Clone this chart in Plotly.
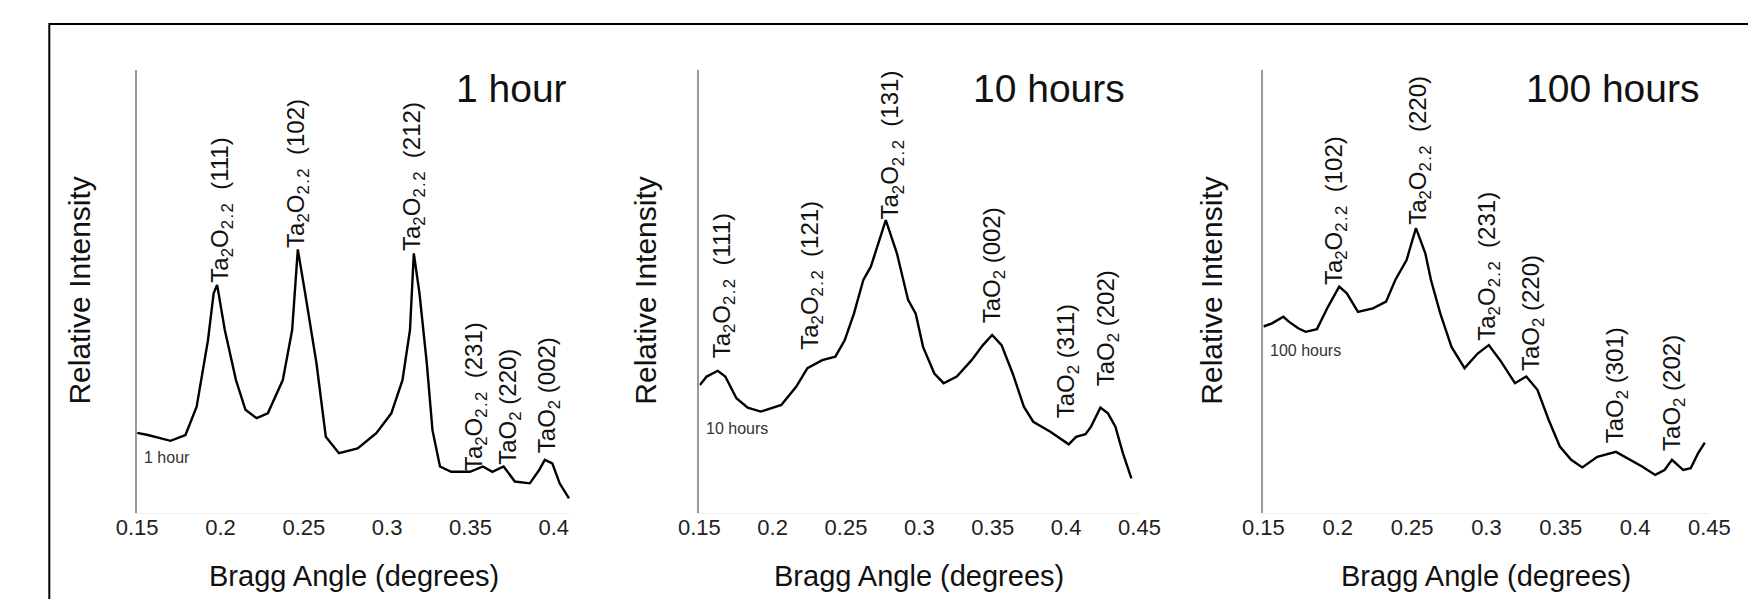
import plotly.graph_objects as go

# ---------------- data (Bragg angle in degrees, relative intensity in arbitrary units) ----------------
panel_names = ["1 hour", "10 hours", "100 hours"]
tick_vals = [0.15, 0.2, 0.25, 0.3, 0.35, 0.4, 0.45]
tick_text = ["0.15", "0.2", "0.25", "0.3", "0.35", "0.4", "0.45"]

angle_1h = [0.150, 0.1565, 0.170, 0.179, 0.1857, 0.1925, 0.1959, 0.198, 0.2026, 0.2093, 0.215, 0.2217,
            0.2284, 0.2374, 0.243, 0.2464, 0.2508, 0.2576, 0.2632, 0.2711, 0.2823, 0.2935, 0.3025, 0.3092,
            0.3137, 0.316, 0.3194, 0.3238, 0.3272, 0.3317, 0.3384, 0.3497, 0.3575, 0.3631, 0.3699, 0.3766,
            0.3856, 0.3912, 0.3946, 0.3991, 0.4035, 0.4091]
inten_1h = [18.1, 17.6, 16.3, 17.6, 24.0, 39.0, 49.6, 51.5, 41.3, 30.0, 23.3, 21.4,
            22.5, 30.0, 41.3, 59.5, 49.6, 33.8, 17.2, 13.5, 14.6, 18.0, 22.5, 30.0,
            41.3, 58.6, 49.6, 33.8, 18.7, 10.5, 9.3, 9.3, 10.5, 9.3, 10.5, 7.1,
            6.7, 9.7, 12.0, 11.2, 6.7, 3.3]

angle_10h = [0.1504, 0.155, 0.1626, 0.1677, 0.1753, 0.183, 0.1919, 0.2059, 0.216, 0.2237, 0.2338, 0.2427,
             0.2491, 0.2554, 0.2618, 0.2669, 0.2771, 0.2847, 0.2923, 0.2975, 0.3025, 0.3102, 0.3165, 0.3255,
             0.3356, 0.3433, 0.3496, 0.356, 0.3636, 0.3712, 0.3776, 0.389, 0.4018, 0.4068, 0.4132, 0.417,
             0.4234, 0.4285, 0.4336, 0.4387, 0.4445]
inten_10h = [28.9, 30.8, 32.1, 30.8, 25.9, 23.8, 22.9, 24.4, 28.5, 32.7, 34.5, 35.3,
             39.0, 45.0, 52.6, 55.6, 66.1, 58.6, 48.1, 45.0, 37.5, 31.5, 29.3, 30.8,
             34.5, 37.9, 40.2, 37.9, 31.5, 24.0, 20.6, 18.4, 15.5, 17.2, 17.8, 19.5,
             23.8, 22.5, 19.5, 13.5, 7.8]

angle_100h = [0.150, 0.1558, 0.1634, 0.1671, 0.1734, 0.1784, 0.186, 0.1935, 0.201, 0.2061, 0.2136, 0.2237,
              0.2325, 0.2387, 0.2463, 0.2526, 0.2589, 0.2627, 0.269, 0.2765, 0.2853, 0.2941, 0.3016, 0.3092,
              0.3192, 0.3268, 0.3343, 0.3419, 0.3494, 0.357, 0.3645, 0.3746, 0.3871, 0.3972, 0.4047, 0.4135,
              0.4198, 0.4248, 0.4324, 0.4374, 0.4424, 0.4469]
inten_100h = [42.1, 42.8, 44.3, 43.2, 41.7, 40.9, 41.5, 46.6, 51.1, 49.6, 45.4, 46.2,
              47.7, 52.6, 57.1, 64.3, 58.6, 52.6, 45.0, 37.5, 32.7, 36.0, 37.9, 34.5,
              29.3, 30.8, 27.8, 21.0, 15.0, 12.0, 10.3, 12.7, 13.8, 12.0, 10.5, 8.6,
              9.7, 12.0, 9.7, 10.1, 13.5, 15.9]

T22 = "Ta<sub>2</sub>O<sub>2&#8202;.&#8202;2</sub>  "
TO2 = "TaO<sub>2</sub> "
peak_text_1h = [T22 + "(111)", T22 + "(102)", T22 + "(212)", T22 + "(231)", TO2 + "(220)", TO2 + "(002)"]
peak_angle_1h = [0.2005, 0.2465, 0.3155, 0.353, 0.3736, 0.397]
peak_inten_1h = [51.5, 59.5, 58.8, 9.0, 10.4, 13.0]

peak_text_10h = [T22 + "(111)", T22 + "(121)", T22 + "(131)", TO2 + "(002)", TO2 + "(311)", TO2 + "(202)"]
peak_angle_10h = [0.1666, 0.2265, 0.281, 0.3503, 0.4015, 0.428]
peak_inten_10h = [34.5, 36.4, 65.8, 42.4, 21.0, 28.2]

peak_text_100h = [T22 + "(102)", T22 + "(220)", T22 + "(231)", TO2 + "(220)", TO2 + "(301)", TO2 + "(202)"]
peak_angle_100h = [0.1985, 0.255, 0.3013, 0.3307, 0.3872, 0.4253]
peak_inten_100h = [51.0, 64.6, 38.4, 31.6, 15.3, 13.5]

angles = [angle_1h, angle_10h, angle_100h]
intens = [inten_1h, inten_10h, inten_100h]
peak_texts = [peak_text_1h, peak_text_10h, peak_text_100h]
peak_angles = [peak_angle_1h, peak_angle_10h, peak_angle_100h]
peak_intens = [peak_inten_1h, peak_inten_10h, peak_inten_100h]
x_ranges = [[0.15, 0.41], [0.15, 0.45], [0.15, 0.45]]

# ---------------- layout geometry (pixels) ----------------
W, H = 1748, 599
FONT = "Liberation Sans, Arial, sans-serif"
px_left = [119, 695, 1273]
px_right = [563, 1146, 1730]
px_top, px_bottom = 70, 513
title_right = [561, 1133, 1721]
ytitle_x = [59, 639, 1219]
small_label_y = [12.6, 19.0, 36.6]

def fx(p):
    return p / W

def fy(p):
    return 1 - p / H

fig = go.Figure()
annotations = []
layout = dict(
    width=W, height=H,
    margin=dict(l=0, r=0, t=0, b=0),
    paper_bgcolor="white", plot_bgcolor="white",
    showlegend=False,
    font=dict(family=FONT, color="#1a1a1a"),
)

for i in range(3):
    n = "" if i == 0 else str(i + 1)
    fig.add_trace(go.Scatter(
        x=angles[i], y=intens[i], mode="lines",
        line=dict(color="black", width=2.4),
        xaxis="x" + n, yaxis="y" + n, hoverinfo="skip",
    ))
    layout["xaxis" + n] = dict(
        domain=[fx(px_left[i]), fx(px_right[i])], range=x_ranges[i], anchor="y" + n,
        tickvals=tick_vals, ticktext=tick_text, ticks="", showgrid=False, zeroline=False,
        showline=True, linecolor="#eeeeee", linewidth=1, ticklabelstandoff=-5,
        tickfont=dict(family=FONT, size=22, color="#222222"),
    )
    layout["yaxis" + n] = dict(
        domain=[fy(px_bottom), fy(px_top)], range=[0, 100], anchor="x" + n,
        showticklabels=False, ticks="", showgrid=False, zeroline=False,
        showline=True, linecolor="#9a9a9a", linewidth=2,
    )
    # panel title
    annotations.append(dict(
        xref="paper", yref="paper", x=fx(title_right[i]), y=fy(89),
        xanchor="right", yanchor="middle", showarrow=False,
        text=panel_names[i], font=dict(family=FONT, size=39, color="#111111"),
    ))
    # axis titles
    annotations.append(dict(
        xref="paper", yref="paper", x=fx((px_left[i] + px_right[i]) / 2), y=fy(576),
        xanchor="center", yanchor="middle", showarrow=False,
        text="Bragg Angle (degrees)", font=dict(family=FONT, size=29, color="#111111"),
    ))
    annotations.append(dict(
        xref="paper", yref="paper", x=fx(ytitle_x[i]), y=fy(291),
        xanchor="center", yanchor="middle", showarrow=False, textangle=-90,
        text="Relative Intensity", font=dict(family=FONT, size=30, color="#111111"),
    ))
    # small in-plot label
    annotations.append(dict(
        xref="x" + n, yref="y" + n, x=angles[i][0] + 0.003, y=small_label_y[i],
        xanchor="left", yanchor="middle", showarrow=False,
        text=panel_names[i], font=dict(family=FONT, size=16, color="#333333"),
    ))
    # peak labels
    for t, xa, ya in zip(peak_texts[i], peak_angles[i], peak_intens[i]):
        annotations.append(dict(
            xref="x" + n, yref="y" + n, x=xa, y=ya,
            xanchor="center", yanchor="bottom", showarrow=False, textangle=-90,
            text=t, font=dict(family=FONT, size=24, color="#111111"),
        ))

layout["annotations"] = annotations
layout["shapes"] = [dict(
    type="rect", xref="paper", yref="paper",
    x0=fx(29), x1=1.02, y0=-0.02, y1=fy(24),
    line=dict(color="black", width=2), fillcolor="rgba(0,0,0,0)",
)]
fig.update_layout(**layout)
fig.write_html(
    "out.html",
    config={"displayModeBar": False, "staticPlot": True},
    post_script="document.body.style.margin='0';document.body.style.overflow='hidden';",
)
